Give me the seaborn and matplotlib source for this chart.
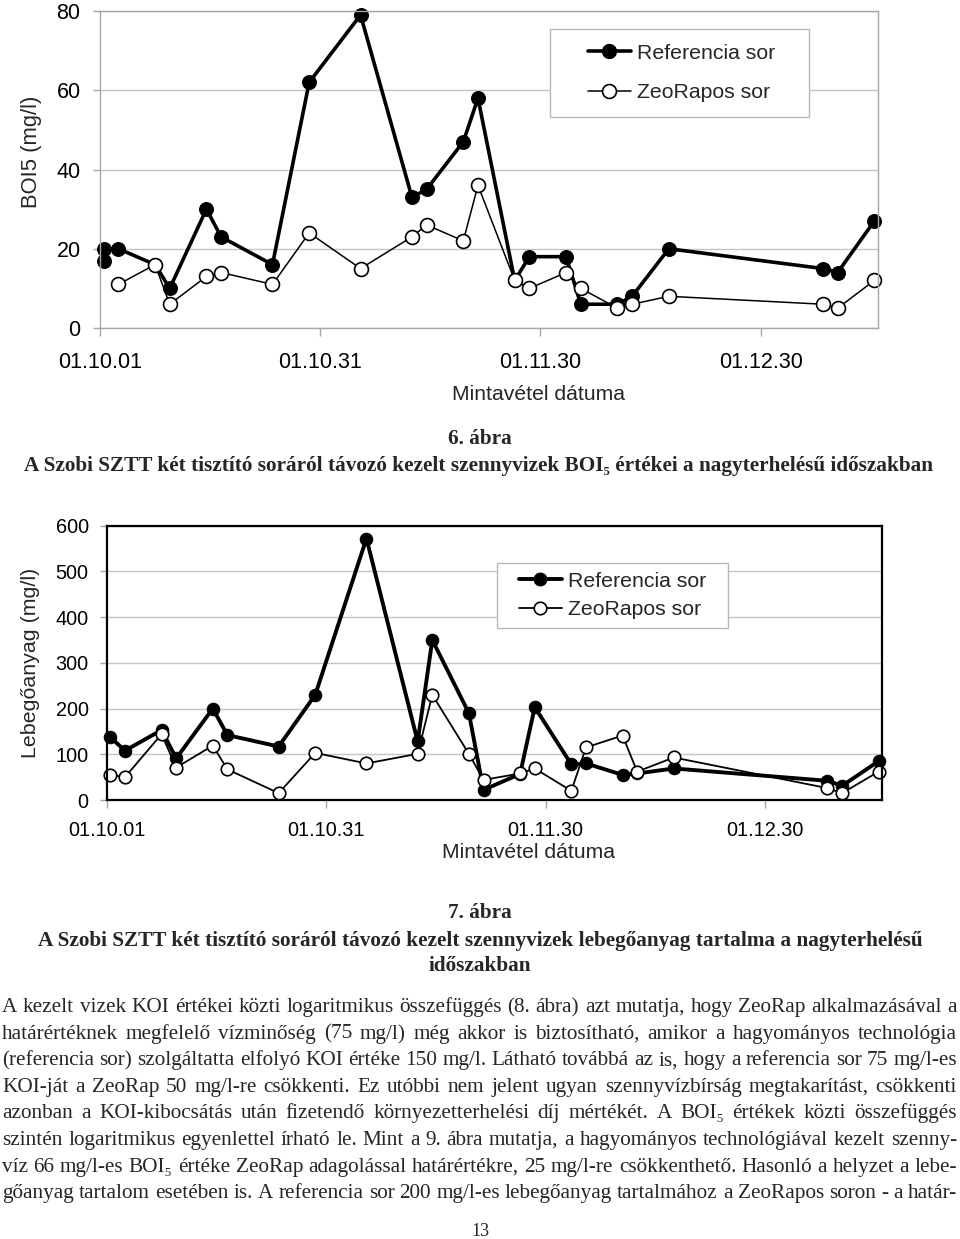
import matplotlib
matplotlib.use("Agg")
import numpy as np
import pandas as pd
import seaborn as sns
import matplotlib.pyplot as plt
from matplotlib.dates import DateFormatter
from matplotlib.lines import Line2D
from matplotlib.patches import Rectangle

# ===== data =====
dates = ['2001-10-01', '2001-10-03', '2001-10-08', '2001-10-10', '2001-10-15', '2001-10-17',
         '2001-10-24', '2001-10-29', '2001-11-05', '2001-11-12', '2001-11-14', '2001-11-19',
         '2001-11-21', '2001-11-26', '2001-11-28', '2001-12-03', '2001-12-05', '2001-12-10',
         '2001-12-12', '2001-12-17', '2002-01-07', '2002-01-09', '2002-01-14']

# BOI5 (6. abra) - the reference line has two readings on the first day
boi_ref_dates = ['2001-10-01'] + dates
boi_ref = [17, 20, 20, 16, 10, 30, 23, 16, 62, 79, 33, 35, 47, 58, 12, 18, 18, 6, 6, 8, 20, 15, 14, 27]
boi_zeo_dates = dates[1:]
boi_zeo = [11, 16, 6, 13, 14, 11, 24, 15, 23, 26, 22, 36, 12, 10, 14, 10, 5, 6, 8, 6, 5, 12]

# Lebegoanyag (7. abra)
leb_ref = [137, 108, 153, 91, 200, 142, 117, 230, 572, 128, 350, 190, 22, 57, 203, 78, 80, 55, 58, 69, 42, 31, 85]
leb_zeo = [55, 50, 144, 71, 119, 67, 15, 103, 80, 101, 230, 101, 44, 58, 69, 20, 115, 141, 62, 93, 26, 15, 62]

tick_dates = ['2001-10-01', '2001-10-31', '2001-11-30', '2001-12-30']
series_names = ['Referencia sor', 'ZeoRapos sor']

body_lines = [
    "A kezelt vizek KOI értékei közti logaritmikus összefüggés (8. ábra) azt mutatja, hogy ZeoRap alkalmazásával a",
    "határértéknek megfelelő vízminőség (75 mg/l) még akkor is biztosítható, amikor a hagyományos technológia",
    "(referencia sor) szolgáltatta elfolyó KOI értéke 150 mg/l. Látható továbbá az is, hogy a referencia sor 75 mg/l-es",
    "KOI-ját a ZeoRap 50 mg/l-re csökkenti. Ez utóbbi nem jelent ugyan szennyvízbírság megtakarítást, csökkenti",
    "azonban a KOI-kibocsátás után fizetendő környezetterhelési díj mértékét. A BOI₅ értékek közti összefüggés",
    "szintén logaritmikus egyenlettel írható le. Mint a 9. ábra mutatja, a hagyományos technológiával kezelt szenny-",
    "víz 66 mg/l-es BOI₅ értéke ZeoRap adagolással határértékre, 25 mg/l-re csökkenthető. Hasonló a helyzet a lebe-",
    "gőanyag tartalom esetében is. A referencia sor 200 mg/l-es lebegőanyag tartalmához a ZeoRapos soron - a határ-",
]

# ===== setup =====
sns.set_theme(style="white")
SANS = ['Liberation Sans', 'DejaVu Sans']
SERIF = ['Liberation Serif', 'DejaVu Serif']
plt.rcParams['font.family'] = SANS

W, H = 960, 1239
fig = plt.figure(figsize=(W / 100, H / 100), dpi=100)


def px_box(l, t, r, b):
    return [l / W, 1 - b / H, (r - l) / W, (b - t) / H]


def half_day(d):
    return pd.to_datetime(pd.Series(d)) + pd.Timedelta(hours=12)


def plot_chart(ax, ref_x, ref_y, zeo_x, zeo_y, ymax, ystep, ms, lw_ref, lw_zeo, frame_col, frame_lw, fs, xpad, ypad):
    sns.lineplot(x=half_day(ref_x), y=ref_y, ax=ax, estimator=None, sort=False, color='black',
                 lw=lw_ref, marker='o', markersize=ms, markerfacecolor='black', markeredgecolor='black',
                 clip_on=False)
    sns.lineplot(x=half_day(zeo_x), y=zeo_y, ax=ax, estimator=None, sort=False, color='black',
                 lw=lw_zeo, marker='o', markersize=ms, markerfacecolor='white', markeredgecolor='black',
                 markeredgewidth=1.2, clip_on=False)
    start = pd.Timestamp('2001-10-01')
    ax.set_xlim(start, start + pd.Timedelta(days=106))
    ax.set_ylim(0, ymax)
    ax.set_yticks(np.arange(0, ymax + 1, ystep))
    ax.set_xticks(pd.to_datetime(tick_dates))
    ax.xaxis.set_major_formatter(DateFormatter('%y.%m.%d'))
    ax.yaxis.grid(True, color='#c4c4c4', lw=1)
    ax.xaxis.grid(False)
    for s in ax.spines.values():
        s.set_color(frame_col)
        s.set_linewidth(frame_lw)
        s.set_visible(True)
    ax.tick_params(axis='both', which='major', direction='out', length=5, width=1, color='#a6a6a6',
                   labelsize=fs, labelcolor='black', bottom=True, left=True)
    ax.tick_params(axis='x', pad=xpad, length=6)
    ax.tick_params(axis='y', pad=ypad)


def add_legend(box, center_y, handle_x, fs, ms, lw_ref, lw_zeo, spacing):
    l, t, r, b = box
    fig.add_artist(Rectangle((l / W, 1 - b / H), (r - l) / W, (b - t) / H, transform=fig.transFigure,
                             facecolor='white', edgecolor='#b8b8b8', lw=1, zorder=3))
    handles = [Line2D([], [], color='black', lw=lw_ref, marker='o', markersize=ms, markerfacecolor='black'),
               Line2D([], [], color='black', lw=lw_zeo, marker='o', markersize=ms, markerfacecolor='white',
                      markeredgewidth=1.2)]
    fig.legend(handles, series_names, loc='center left', bbox_to_anchor=(handle_x / W, 1 - center_y / H),
               frameon=False, fontsize=fs, borderpad=0, borderaxespad=0, handlelength=2.0,
               handletextpad=0.3, labelspacing=spacing)


def ftext(x, y, s, **kw):
    return fig.text(x / W, 1 - y / H, s, **kw)


CAP = 15.3

# ===== 6. abra =====
ax1 = fig.add_axes(px_box(100, 11, 878, 328))
plot_chart(ax1, boi_ref_dates, boi_ref, boi_zeo_dates, boi_zeo, 80, 20, 10, 2.6, 1.1,
           '#a6a6a6', 1.0, 15.5, 11, 9)
ax1.set_xlabel('Mintavétel dátuma', fontsize=15.2)
ax1.set_ylabel('BOI5 (mg/l)', fontsize=15.8)
ax1.xaxis.set_label_coords((539 - 100) / 778, (328 - 395) / 317)
ax1.xaxis.label.set_va('center')
ax1.yaxis.set_label_coords((31 - 100) / 778, (328 - 152) / 317)
ax1.yaxis.label.set_va('center')
add_legend((550, 29, 809, 117), 73, 588, 15.3, 10, 2.6, 1.1, 0.95)

ftext(480, 439, '6. ábra', ha='center', va='center', fontsize=CAP, fontweight='bold', family=SERIF)
ftext(478, 466, 'A Szobi SZTT két tisztító soráról távozó kezelt szennyvizek BOI₅ értékei a nagyterhelésű időszakban',
      ha='center', va='center', fontsize=CAP, fontweight='bold', family=SERIF)

# ===== 7. abra =====
ax2 = fig.add_axes(px_box(106.7, 525.7, 882.3, 800))
plot_chart(ax2, dates, leb_ref, dates, leb_zeo, 600, 100, 9, 2.8, 1.3,
           'black', 1.6, 14.3, 9, 8)
ax2.set_xlabel('Mintavétel dátuma', fontsize=15.2)
ax2.set_ylabel('Lebegőanyag (mg/l)', fontsize=15.4)
ax2.xaxis.set_label_coords((528 - 106.7) / 775.6, (800 - 853) / 274.3)
ax2.xaxis.label.set_va('center')
ax2.yaxis.set_label_coords((31 - 106.7) / 775.6, 0.5)
ax2.yaxis.label.set_va('center')
add_legend((497, 563, 728, 628), 595.5, 519, 15.3, 9, 2.8, 1.3, 0.45)

ftext(480, 913, '7. ábra', ha='center', va='center', fontsize=CAP, fontweight='bold', family=SERIF)
ftext(480, 941, 'A Szobi SZTT két tisztító soráról távozó kezelt szennyvizek lebegőanyag tartalma a nagyterhelésű',
      ha='center', va='center', fontsize=CAP, fontweight='bold', family=SERIF)
ftext(480, 966, 'időszakban', ha='center', va='center', fontsize=CAP, fontweight='bold', family=SERIF)

# ===== body text, justified word by word on a common baseline =====
renderer = fig.canvas.get_renderer()
x0, x1 = 2, 957
for i, line in enumerate(body_lines):
    y = 1006 + i * 26.6 + 6
    words = line.split(' ')
    texts = [ftext(0, y, w, va='baseline', ha='left', fontsize=15.3, family=SERIF) for w in words]
    widths = [t.get_window_extent(renderer).width for t in texts]
    gap = max((x1 - x0 - sum(widths)) / (len(words) - 1), 2)
    x = x0
    for t, w in zip(texts, widths):
        t.set_x(x / W)
        x += w + gap

ftext(480, 1232, '13', ha='center', va='center', fontsize=13, family=SERIF)

fig.savefig('out.png', dpi=100)
